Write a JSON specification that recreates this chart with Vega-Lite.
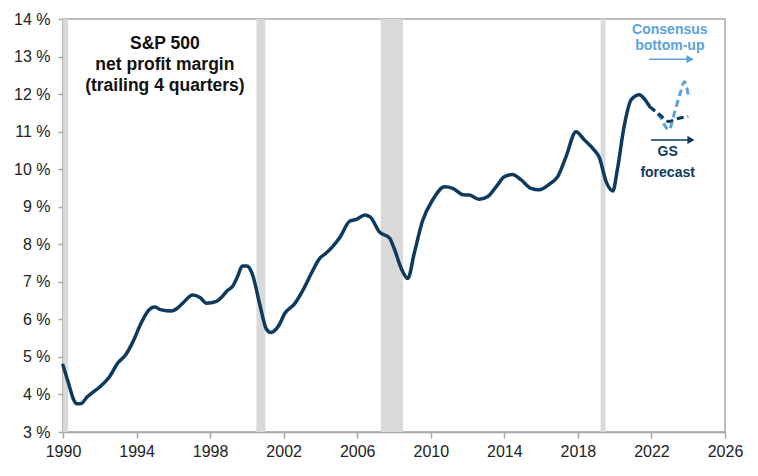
{
  "$schema": "https://vega.github.io/schema/vega-lite/v6.json",
  "width": 662,
  "height": 413,
  "autosize": "none",
  "padding": {"left": 63, "top": 19, "right": 33, "bottom": 44},
  "background": "white",
  "config": {
    "view": {"stroke": "#a8a8a8", "strokeWidth": 1.5},
    "font": "Liberation Sans",
    "axis": {
      "labelFont": "Liberation Sans",
      "labelFontSize": 16,
      "labelColor": "#222222",
      "labelOverlap": false,
      "labelFlush": false,
      "labelBound": false,
      "domainColor": "#a8a8a8",
      "domainWidth": 1.5,
      "tickColor": "#a8a8a8",
      "tickWidth": 1.5,
      "tickSize": 5,
      "grid": false,
      "title": null
    }
  },
  "datasets": {
    "recessions": [
      {"start": 1990.0, "end": 1990.28},
      {"start": 2000.52, "end": 2001.0},
      {"start": 2007.28, "end": 2008.49},
      {"start": 2019.24, "end": 2019.5}
    ],
    "actual": [
      {"year": 1990.0, "margin": 4.78},
      {"year": 1990.3, "margin": 4.3},
      {"year": 1990.6, "margin": 3.84},
      {"year": 1990.75, "margin": 3.75},
      {"year": 1991.0, "margin": 3.76},
      {"year": 1991.3, "margin": 3.93},
      {"year": 1991.6, "margin": 4.05},
      {"year": 1992.0, "margin": 4.2},
      {"year": 1992.5, "margin": 4.45},
      {"year": 1993.0, "margin": 4.85},
      {"year": 1993.4, "margin": 5.05},
      {"year": 1993.8, "margin": 5.4},
      {"year": 1994.2, "margin": 5.85},
      {"year": 1994.55, "margin": 6.17},
      {"year": 1994.8, "margin": 6.3},
      {"year": 1995.0, "margin": 6.33},
      {"year": 1995.3, "margin": 6.26},
      {"year": 1995.9, "margin": 6.22},
      {"year": 1996.2, "margin": 6.29},
      {"year": 1996.55, "margin": 6.45},
      {"year": 1997.05, "margin": 6.65},
      {"year": 1997.45, "margin": 6.58},
      {"year": 1997.8, "margin": 6.43},
      {"year": 1998.35, "margin": 6.48},
      {"year": 1998.65, "margin": 6.6},
      {"year": 1998.9, "margin": 6.75},
      {"year": 1999.25, "margin": 6.9},
      {"year": 1999.5, "margin": 7.15},
      {"year": 1999.75, "margin": 7.42},
      {"year": 2000.0, "margin": 7.42},
      {"year": 2000.3, "margin": 7.2},
      {"year": 2000.7, "margin": 6.4},
      {"year": 2001.05, "margin": 5.75},
      {"year": 2001.3, "margin": 5.65},
      {"year": 2001.75, "margin": 5.85},
      {"year": 2002.05, "margin": 6.15},
      {"year": 2002.6, "margin": 6.42},
      {"year": 2003.05, "margin": 6.78},
      {"year": 2003.5, "margin": 7.22},
      {"year": 2003.95, "margin": 7.62},
      {"year": 2004.3, "margin": 7.76},
      {"year": 2004.65, "margin": 7.93},
      {"year": 2005.05, "margin": 8.18},
      {"year": 2005.6, "margin": 8.62},
      {"year": 2006.0, "margin": 8.67},
      {"year": 2006.4, "margin": 8.78},
      {"year": 2006.7, "margin": 8.73},
      {"year": 2007.2, "margin": 8.33},
      {"year": 2007.75, "margin": 8.17},
      {"year": 2008.0, "margin": 7.9},
      {"year": 2008.4, "margin": 7.35},
      {"year": 2008.75, "margin": 7.09},
      {"year": 2009.1, "margin": 7.76},
      {"year": 2009.55, "margin": 8.62},
      {"year": 2010.1, "margin": 9.18},
      {"year": 2010.75, "margin": 9.53},
      {"year": 2011.2, "margin": 9.49},
      {"year": 2011.75, "margin": 9.32},
      {"year": 2012.1, "margin": 9.31},
      {"year": 2012.65, "margin": 9.2},
      {"year": 2013.1, "margin": 9.27},
      {"year": 2013.55, "margin": 9.53},
      {"year": 2014.0, "margin": 9.8},
      {"year": 2014.45, "margin": 9.86},
      {"year": 2014.9, "margin": 9.72},
      {"year": 2015.45, "margin": 9.49},
      {"year": 2015.9, "margin": 9.45},
      {"year": 2016.45, "margin": 9.6},
      {"year": 2016.9, "margin": 9.8},
      {"year": 2017.35, "margin": 10.33},
      {"year": 2017.9, "margin": 11.0},
      {"year": 2018.35, "margin": 10.78},
      {"year": 2018.9, "margin": 10.5},
      {"year": 2019.15, "margin": 10.33},
      {"year": 2019.55, "margin": 9.65},
      {"year": 2019.9, "margin": 9.42},
      {"year": 2020.15, "margin": 10.0},
      {"year": 2020.5, "margin": 11.1},
      {"year": 2020.9, "margin": 11.85},
      {"year": 2021.35, "margin": 11.98},
      {"year": 2021.6, "margin": 11.88},
      {"year": 2021.9, "margin": 11.67}
    ],
    "gs": [
      {"year": 2021.9, "margin": 11.67},
      {"year": 2022.45, "margin": 11.45},
      {"year": 2022.95, "margin": 11.27},
      {"year": 2023.3, "margin": 11.33},
      {"year": 2024.0, "margin": 11.4}
    ],
    "consensus": [
      {"year": 2021.9, "margin": 11.67},
      {"year": 2022.45, "margin": 11.4},
      {"year": 2022.95, "margin": 11.05},
      {"year": 2023.25, "margin": 11.5},
      {"year": 2023.55, "margin": 12.0},
      {"year": 2023.8, "margin": 12.33},
      {"year": 2024.0, "margin": 11.98}
    ],
    "arrows": [
      {"from": 2021.87, "to": 2024.1, "level": 12.93, "kind": "Consensus"},
      {"from": 2021.97, "to": 2024.15, "level": 10.78, "kind": "GS"}
    ],
    "labels": [
      {"year": 1995.54, "margin": 13.34, "text": "S&P 500", "kind": "title"},
      {"year": 1995.54, "margin": 12.78, "text": "net profit margin", "kind": "title"},
      {"year": 1995.54, "margin": 12.22, "text": "(trailing 4 quarters)", "kind": "title"},
      {"year": 2023.0, "margin": 13.71, "text": "Consensus", "kind": "Consensus"},
      {"year": 2023.0, "margin": 13.27, "text": "bottom-up", "kind": "Consensus"},
      {"year": 2022.88, "margin": 10.45, "text": "GS", "kind": "GS"},
      {"year": 2022.88, "margin": 9.9, "text": "forecast", "kind": "GS"}
    ]
  },
  "layer": [
    {
      "data": {"name": "recessions"},
      "mark": {"type": "rect", "color": "#d9d9d9"},
      "encoding": {
        "x": {
          "field": "start",
          "type": "quantitative",
          "scale": {"domain": [1990, 2026], "nice": false, "zero": false},
          "axis": {"values": [1990, 1994, 1998, 2002, 2006, 2010, 2014, 2018, 2022, 2026], "format": "d", "labelPadding": 5, "tickSize": 6, "labelOverlap": false, "labelFlush": false}
        },
        "x2": {"field": "end"}
      }
    },
    {
      "data": {"name": "actual"},
      "mark": {"type": "line", "color": "#0d3a5f", "strokeWidth": 3.5, "interpolate": "monotone", "strokeCap": "round", "strokeJoin": "round"},
      "encoding": {
        "x": {"field": "year", "type": "quantitative"},
        "y": {
          "field": "margin",
          "type": "quantitative",
          "scale": {"domain": [3, 14], "nice": false, "zero": false},
          "axis": {"values": [3, 4, 5, 6, 7, 8, 9, 10, 11, 12, 13, 14], "labelExpr": "datum.value + ' %'", "labelPadding": 8, "labelOverlap": false, "labelFlush": false, "labelBound": false, "tickCount": 12}
        }
      }
    },
    {
      "data": {"name": "consensus"},
      "mark": {"type": "line", "color": "#5ba3dc", "strokeWidth": 3, "strokeDash": [7, 4], "interpolate": "monotone"},
      "encoding": {
        "x": {"field": "year", "type": "quantitative"},
        "y": {"field": "margin", "type": "quantitative"}
      }
    },
    {
      "data": {"name": "gs"},
      "mark": {"type": "line", "color": "#0d3a5f", "strokeWidth": 3, "strokeDash": [7, 4], "interpolate": "monotone"},
      "encoding": {
        "x": {"field": "year", "type": "quantitative"},
        "y": {"field": "margin", "type": "quantitative"}
      }
    },
    {
      "data": {"name": "arrows"},
      "mark": {"type": "rule", "strokeWidth": 1.5},
      "encoding": {
        "x": {"field": "from", "type": "quantitative"},
        "x2": {"field": "to"},
        "y": {"field": "level", "type": "quantitative"},
        "color": {"field": "kind", "type": "nominal", "scale": {"domain": ["Consensus", "GS", "title"], "range": ["#5ba3dc", "#0d3a5f", "#111111"]}, "legend": null}
      }
    },
    {
      "data": {"name": "arrows"},
      "mark": {"type": "point", "shape": "triangle-right", "filled": true, "size": 70, "opacity": 1},
      "encoding": {
        "x": {"field": "to", "type": "quantitative"},
        "y": {"field": "level", "type": "quantitative"},
        "color": {"field": "kind", "type": "nominal", "legend": null}
      }
    },
    {
      "data": {"name": "labels"},
      "transform": [{"filter": "datum.kind == 'title'"}],
      "mark": {"type": "text", "font": "Liberation Sans", "fontWeight": "bold", "fontSize": 17.5, "align": "center", "baseline": "middle"},
      "encoding": {
        "x": {"field": "year", "type": "quantitative"},
        "y": {"field": "margin", "type": "quantitative"},
        "text": {"field": "text"},
        "color": {"field": "kind", "type": "nominal", "legend": null}
      }
    },
    {
      "data": {"name": "labels"},
      "transform": [{"filter": "datum.kind != 'title'"}],
      "mark": {"type": "text", "font": "Liberation Sans", "fontWeight": "bold", "fontSize": 14, "align": "center", "baseline": "middle"},
      "encoding": {
        "x": {"field": "year", "type": "quantitative"},
        "y": {"field": "margin", "type": "quantitative"},
        "text": {"field": "text"},
        "color": {"field": "kind", "type": "nominal", "legend": null}
      }
    }
  ]
}
